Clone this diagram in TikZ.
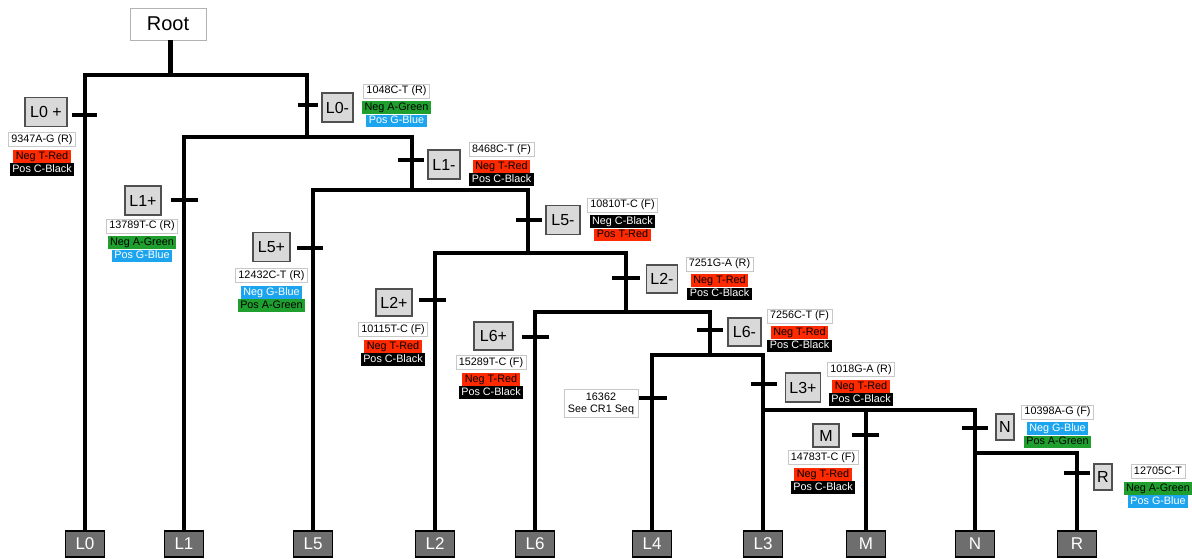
\documentclass[tikz,border=0pt]{standalone}
\usepackage{fontspec}
\setmainfont{Liberation Sans}
\definecolor{cred}{HTML}{FF2A00}
\definecolor{cgreen}{HTML}{1FA02E}
\definecolor{cblue}{HTML}{1CA5EE}
\definecolor{labfill}{HTML}{D9D9D9}
\definecolor{labdraw}{HTML}{505050}
\definecolor{leaffill}{HTML}{6E6E6E}
\definecolor{infodraw}{HTML}{C8C8C8}
\newcommand\infogroup[8]{%
  \node[info] (#1) at (#2,#3) {#4};
  \node[#5, anchor=north] (#1a) at ([yshift=-3pt]#1.south) {#6};
  \node[#7, anchor=north] (#1b) at (#1a.south) {#8};
}
\begin{document}
\begin{tikzpicture}[x=1pt,y=-1pt,
  tree/.style={line width=3.5pt},
  tickmark/.style={line width=4.5pt},
  lab/.style={draw=labdraw, fill=labfill, line width=1.2pt, font=\fontsize{16}{16}\selectfont, minimum height=29pt, inner xsep=4pt, inner ysep=0pt},
  info/.style={draw=infodraw, fill=white, line width=0.7pt, font=\fontsize{10.8}{12}\selectfont, text height=8pt, text depth=2.2pt, inner xsep=3pt, inner ysep=1.8pt},
  strip/.style={font=\fontsize{10.8}{12}\selectfont, text height=8pt, text depth=2.2pt, inner xsep=2.5pt, inner ysep=1.3pt},
  sred/.style={strip, fill=cred, text=black},
  sblack/.style={strip, fill=black, text=white},
  sgreen/.style={strip, fill=cgreen, text=black},
  sblue/.style={strip, fill=cblue, text=white},
  leaf/.style={draw=black, fill=leaffill, text=white, line width=1.2pt, font=\fontsize{17}{17}\selectfont, minimum width=39pt, minimum height=26pt, inner sep=0pt},
  rootbox/.style={draw=gray!60, fill=white, line width=0.8pt, font=\fontsize{20}{20}\selectfont, minimum width=76pt, minimum height=32pt, inner sep=0pt}
]
\useasboundingbox (0,0) rectangle (1192,559);
\fill[white] (0,0) rectangle (1192,559);

% root and leaves
\node[rootbox] (root) at (168,24) {Root};
\node[leaf] (lf0) at (85,544) {L0};
\node[leaf] (lf1) at (184,544) {L1};
\node[leaf] (lf5) at (313,544) {L5};
\node[leaf] (lf2) at (435,544) {L2};
\node[leaf] (lf6) at (535,544) {L6};
\node[leaf] (lf4) at (652,544) {L4};
\node[leaf] (lf3) at (763,544) {L3};
\node[leaf] (lfM) at (866,544) {M};
\node[leaf] (lfN) at (975,544) {N};
\node[leaf] (lfR) at (1077,544) {R};

% junctions
\coordinate (n0) at (170,75);
\coordinate (n1) at (307,137);
\coordinate (n2) at (412,190);
\coordinate (n3) at (528,253);
\coordinate (n4) at (626,312);
\coordinate (n5) at (710,355);
\coordinate (n6) at (763,410);
\coordinate (n7) at (975,453);

% tree
\draw[line width=5pt] (n0 |- root.south) -- (n0);
\draw[tree] (lf0.north) |- (n0) -| (n1);
\draw[tree] (lf1.north) |- (n1) -| (n2);
\draw[tree] (lf5.north) |- (n2) -| (n3);
\draw[tree] (lf2.north) |- (n3) -| (n4);
\draw[tree] (lf6.north) |- (n4) -| (n5);
\draw[tree] (lf4.north) |- (n5) -| (n6);
\draw[tree] (lf3.north) -- (n6) -| (n7);
\draw[tree] (lfM.north) -- (lfM.north |- n6);
\draw[tree] (lfN.north) -- (n7) -| (lfR.north);

% ticks
\draw[tickmark] (72,115) -- (97,115);
\draw[tickmark] (298,105) -- (318,105);
\draw[tickmark] (171,200) -- (198,200);
\draw[tickmark] (398,160) -- (424,160);
\draw[tickmark] (297,248) -- (323,248);
\draw[tickmark] (516,220) -- (542,220);
\draw[tickmark] (419,300) -- (446,300);
\draw[tickmark] (612,278) -- (640,278);
\draw[tickmark] (522,337) -- (549,337);
\draw[tickmark] (697,330) -- (723,330);
\draw[tickmark] (638,398) -- (667,398);
\draw[tickmark] (751,384) -- (777,384);
\draw[tickmark] (852,435) -- (879,435);
\draw[tickmark] (962,428) -- (988,428);
\draw[tickmark] (1064,473) -- (1090,473);

% branch labels
\node[lab, minimum width=42pt] (b0p) at (46,112) {L0 +};
\node[lab, minimum width=31pt] (b0m) at (337.5,107.5) {L0-};
\node[lab, minimum width=36pt] (b1p) at (143,200.5) {L1+};
\node[lab, minimum width=32pt] (b1m) at (444,164.5) {L1-};
\node[lab, minimum width=37pt] (b5p) at (271.5,247) {L5+};
\node[lab, minimum width=34pt] (b5m) at (563,220) {L5-};
\node[lab, minimum width=36pt, minimum height=27pt] (b2p) at (394,302.5) {L2+};
\node[lab, minimum width=30pt, minimum height=28pt] (b2m) at (662,279) {L2-};
\node[lab, minimum width=39pt, minimum height=28pt] (b6p) at (493.5,336) {L6+};
\node[lab, minimum width=33pt, minimum height=28pt] (b6m) at (744.5,332) {L6-};
\node[lab, minimum width=34pt] (b3p) at (803,387.5) {L3+};
\node[lab, minimum width=26pt, minimum height=23pt, inner xsep=1pt] (bM) at (826,435.5) {M};
\node[lab, minimum width=18pt, minimum height=26pt, inner xsep=1pt] (bN) at (1005,427) {N};
\node[lab, minimum width=18pt, minimum height=26pt, inner xsep=1pt] (bR) at (1103,477) {R};

% info groups
\infogroup{g0}{42}{139.5}{9347A-G (R)}{sred}{Neg T-Red}{sblack}{Pos C-Black}
\infogroup{g0m}{396.5}{91}{1048C-T (R)}{sgreen}{Neg A-Green}{sblue}{Pos G-Blue}
\infogroup{g1p}{142}{226}{13789T-C (R)}{sgreen}{Neg A-Green}{sblue}{Pos G-Blue}
\infogroup{g1m}{501.5}{149.5}{8468C-T (F)}{sred}{Neg T-Red}{sblack}{Pos C-Black}
\infogroup{g5p}{271.5}{275.5}{12432C-T (R)}{sblue}{Neg G-Blue}{sgreen}{Pos A-Green}
\infogroup{g5m}{622.5}{205}{10810T-C (F)}{sblack}{Neg C-Black}{sred}{Pos T-Red}
\infogroup{g2p}{393}{329.5}{10115T-C (F)}{sred}{Neg T-Red}{sblack}{Pos C-Black}
\infogroup{g2m}{719.5}{264}{7251G-A (R)}{sred}{Neg T-Red}{sblack}{Pos C-Black}
\infogroup{g6p}{491}{362.5}{15289T-C (F)}{sred}{Neg T-Red}{sblack}{Pos C-Black}
\infogroup{g6m}{799.5}{316}{7256C-T (F)}{sred}{Neg T-Red}{sblack}{Pos C-Black}
\infogroup{g3p}{861}{369.5}{1018G-A (R)}{sred}{Neg T-Red}{sblack}{Pos C-Black}
\infogroup{gM}{823}{457.5}{14783T-C (F)}{sred}{Neg T-Red}{sblack}{Pos C-Black}
\infogroup{gN}{1057.5}{412}{10398A-G (F)}{sblue}{Neg G-Blue}{sgreen}{Pos A-Green}
\infogroup{gR}{1158}{471.5}{12705C-T}{sgreen}{Neg A-Green}{sblue}{Pos G-Blue}

\node[info, align=center, text height=, text depth=, inner xsep=4pt, inner ysep=3pt] (g4) at (601,403.5) {16362\\See CR1 Seq};
\end{tikzpicture}
\end{document}
